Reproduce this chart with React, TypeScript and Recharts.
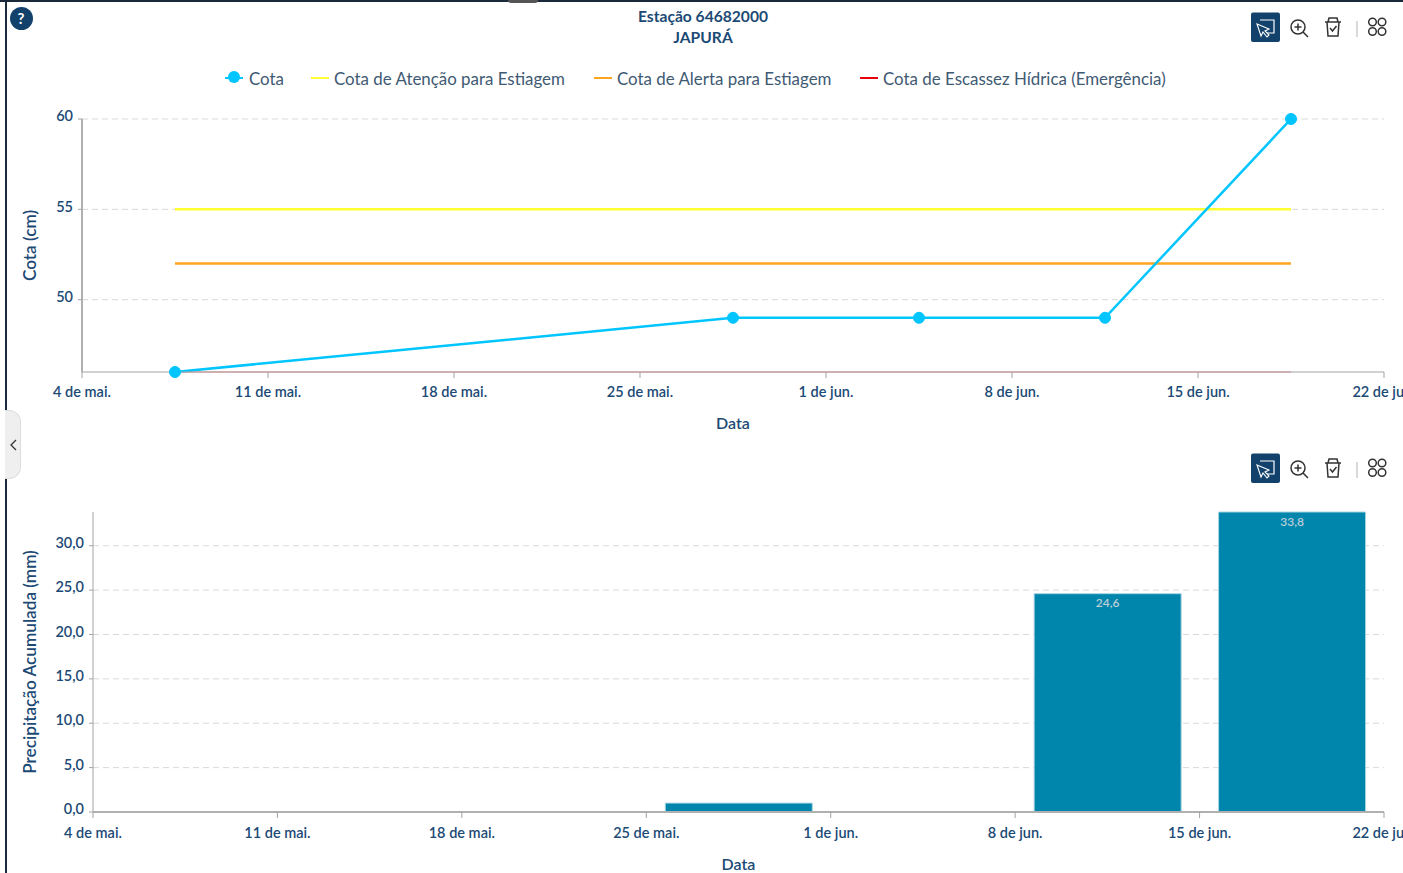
import { ComposedChart, Line, Bar, XAxis, YAxis, CartesianGrid, LabelList } from 'recharts';

const FONT = 'Lato, "Open Sans", sans-serif';
const NAVY = '#1c4a75';

const toTime = (d: string) => new Date(d).getTime();

// weekly ticks on the date axis
const tickDates = ['2025-05-04', '2025-05-11', '2025-05-18', '2025-05-25', '2025-06-01', '2025-06-08', '2025-06-15', '2025-06-22'];
const tickLabels = ['4 de mai.', '11 de mai.', '18 de mai.', '25 de mai.', '1 de jun.', '8 de jun.', '15 de jun.', '22 de jun.'];
const xTicks = tickDates.map(toTime);

const levelDates = ['2025-05-07T12:00Z', '2025-05-28T12:00Z', '2025-06-04T12:00Z', '2025-06-11T12:00Z', '2025-06-18T12:00Z'];
const cota = [46, 49, 49, 49, 60];
const atencao = [55, 55, 55, 55, 55];
const alerta = [52, 52, 52, 52, 52];
const escassez = [46, 46, 46, 46, 46];
const cotaTicks = [50, 55, 60];

const rainDates = ['2025-05-28T12:00Z', '2025-06-04T12:00Z', '2025-06-11T12:00Z', '2025-06-18T12:00Z'];
const rain = [1.0, 0, 24.6, 33.8];
const rainTicks = [0, 5, 10, 15, 20, 25, 30];

const legendItems = [
  { name: 'Cota', color: '#00c5ff', left: 225, textLeft: 249, dot: true },
  { name: 'Cota de Atenção para Estiagem', color: '#ffff33', left: 311, textLeft: 334, dot: false },
  { name: 'Cota de Alerta para Estiagem', color: '#ffa51f', left: 594, textLeft: 617, dot: false },
  { name: 'Cota de Escassez Hídrica (Emergência)', color: '#e8000b', left: 860, textLeft: 883, dot: false },
];

const levelRows = levelDates.map((d, i) => ({
  t: toTime(d),
  cota: cota[i],
  atencao: atencao[i],
  alerta: alerta[i],
  escassez: escassez[i],
}));
const rainRows = rainDates.map((d, i) => ({ t: toTime(d), rain: rain[i] }));

const formatDate = (v: number) => tickLabels[xTicks.indexOf(v)] ?? '';
const formatDecimal = (v: number) => v.toFixed(1).replace('.', ',');

const tickStyle = { fontSize: 14.5, fontWeight: 600, fill: NAVY, fontFamily: FONT };
const yTickStyle = { ...tickStyle, dy: -3 };
const xTitle = { fontSize: 16, fontWeight: 600, fill: NAVY, fontFamily: FONT };
const yTitle = { fontSize: 17.2, fontWeight: 600, fill: NAVY, fontFamily: FONT, textAnchor: 'middle' };
const axisStroke = { stroke: '#a3a3a3' };
const heavyAxis = { stroke: '#b0b0b0', strokeWidth: 2 };

const Toolbar = ({ top }: { top: number }) => (
  <svg width={140} height={32} style={{ position: 'absolute', left: 1250, top }} fill="none" stroke="#333" strokeWidth={1.5}>
    <rect x={1} y={0.5} width={29} height={29.5} rx={2} fill="#12416b" stroke="none" />
    <path d="M10 8h14v13h-9" stroke="#fff" strokeWidth={1.2} />
    <path d="M7 12l4 12 2-4 4 5 2-2-4-4 4-2z" stroke="#fff" strokeWidth={1.1} fill="#12416b" />
    <circle cx={48} cy={15} r={7} />
    <path d="M53 20l5 5M44.5 15h7M48 11.5v7" />
    <path d="M75 10h16M78 10l1-4h8l1 4M77 10l1 14h10l1-14M80 16l2.5 3 4-5" />
    <path d="M107 9v16" stroke="#ccc" />
    <circle cx={122.5} cy={10} r={3.8} />
    <circle cx={132} cy={10} r={3.8} />
    <circle cx={122.5} cy={19.5} r={3.8} />
    <circle cx={132} cy={19.5} r={3.8} />
  </svg>
);

export default function App() {
  return (
    <div style={{ position: 'absolute', left: 0, top: 0, width: 1403, height: 873, overflow: 'hidden', background: '#fff', fontFamily: FONT }}>
      {/* page frame */}
      <div style={{ position: 'absolute', left: 0, top: 0, width: 1403, height: 2, background: '#1b2a3a' }} />
      <div style={{ position: 'absolute', left: 5, top: 0, width: 1.5, height: 873, background: '#1b2a3a' }} />
      <div style={{ position: 'absolute', left: 508, top: 0, width: 30, height: 3, borderRadius: '0 0 15px 15px', background: '#555' }} />

      <div style={{ position: 'absolute', left: 9.5, top: 6.5, width: 23, height: 23, borderRadius: 12, background: '#12416b', color: '#fff', fontSize: 15, fontWeight: 700, lineHeight: '23px', textAlign: 'center' }}>?</div>
      <div style={{ position: 'absolute', left: 5, top: 410, width: 15, height: 67, background: '#efefef', border: '1px solid #ddd', borderLeft: 'none', borderRadius: '0 12px 12px 0' }}>
        <svg width={15} height={67} fill="none" stroke="#333" strokeWidth={1.3}><path d="M11 29l-5 5 5 5" /></svg>
      </div>

      <div style={{ position: 'absolute', left: 0, width: 1406, top: 6, textAlign: 'center', color: NAVY, fontSize: 15.6, fontWeight: 700, lineHeight: '21px' }}>
        Estação 64682000<br />JAPURÁ
      </div>
      <Toolbar top={12} />
      <Toolbar top={453} />

      {legendItems.map((item) => (
        <div key={item.name}>
          <div style={{ position: 'absolute', left: item.left, top: 76.5, width: 18, height: 2, background: item.color }} />
          {item.dot && <div style={{ position: 'absolute', left: item.left + 3, top: 71, width: 12, height: 12, borderRadius: 6, background: item.color }} />}
          <div style={{ position: 'absolute', left: item.textLeft, top: 69, fontSize: 16.9, lineHeight: '20px', color: '#3f5a73', whiteSpace: 'nowrap' }}>{item.name}</div>
        </div>
      ))}

      <div style={{ position: 'absolute', left: 0, top: 0 }}>
        <ComposedChart width={1403} height={440} data={levelRows} margin={{ top: 119, right: 19, bottom: 8, left: 22 }}>
          <CartesianGrid horizontal vertical={false} syncWithTicks strokeDasharray="6 4" stroke="#d9d9d9" />
          <XAxis
            dataKey="t"
            type="number"
            scale="linear"
            domain={[xTicks[0], xTicks[xTicks.length - 1]]}
            ticks={xTicks}
            interval={0}
            tickFormatter={formatDate}
            tick={tickStyle}
            tickSize={6}
            tickMargin={9}
            axisLine={axisStroke}
            tickLine={axisStroke}
            height={60}
            label={{ value: 'Data', position: 'insideBottom', offset: 3, style: xTitle }}
          />
          <YAxis
            type="number"
            domain={[46, 60]}
            ticks={cotaTicks}
            width={60}
            tick={yTickStyle}
            tickSize={4}
            tickMargin={5}
            axisLine={heavyAxis}
            tickLine={axisStroke}
            label={{ value: 'Cota (cm)', angle: -90, position: 'insideLeft', offset: 8, style: yTitle }}
          />
          <Line dataKey="escassez" stroke="#e8000b" strokeOpacity={0.35} strokeWidth={1.5} dot={false} isAnimationActive={false} />
          <Line dataKey="alerta" stroke="#ffa51f" strokeWidth={2.5} dot={false} isAnimationActive={false} />
          <Line dataKey="atencao" stroke="#ffff33" strokeWidth={2.5} dot={false} isAnimationActive={false} />
          <Line dataKey="cota" stroke="#00c5ff" strokeWidth={2.5} dot={{ r: 5.5, fill: '#00c5ff', stroke: '#00c5ff', strokeWidth: 1 }} isAnimationActive={false} />
        </ComposedChart>
      </div>

      <div style={{ position: 'absolute', left: 0, top: 460 }}>
        <ComposedChart width={1403} height={413} data={rainRows} margin={{ top: 52, right: 19, bottom: 0, left: 22 }}>
          <CartesianGrid horizontal vertical={false} syncWithTicks strokeDasharray="6 4" stroke="#d9d9d9" />
          <XAxis
            dataKey="t"
            type="number"
            scale="linear"
            domain={[xTicks[0], xTicks[xTicks.length - 1]]}
            ticks={xTicks}
            interval={0}
            tickFormatter={formatDate}
            tick={tickStyle}
            tickSize={6}
            tickMargin={10}
            axisLine={heavyAxis}
            tickLine={axisStroke}
            height={61}
            label={{ value: 'Data', position: 'insideBottom', offset: 3, style: xTitle }}
          />
          <YAxis
            type="number"
            domain={[0, 33.8]}
            ticks={rainTicks}
            width={71}
            tickFormatter={formatDecimal}
            tick={yTickStyle}
            tickSize={4}
            tickMargin={5}
            axisLine={axisStroke}
            tickLine={axisStroke}
            label={{ value: 'Precipitação Acumulada (mm)', angle: -90, position: 'insideLeft', offset: 8, style: yTitle }}
          />
          <Bar dataKey="rain" fill="#0085ad" stroke="#a8d5e2" strokeWidth={1} barSize={147} isAnimationActive={false}>
            <LabelList
              dataKey="rain"
              position="insideTop"
              formatter={(v: number) => (v > 5 ? formatDecimal(v) : '')}
              style={{ fontSize: 12, fontWeight: 600, fill: '#bccfd7', fontFamily: FONT }}
            />
          </Bar>
        </ComposedChart>
      </div>
    </div>
  );
}
